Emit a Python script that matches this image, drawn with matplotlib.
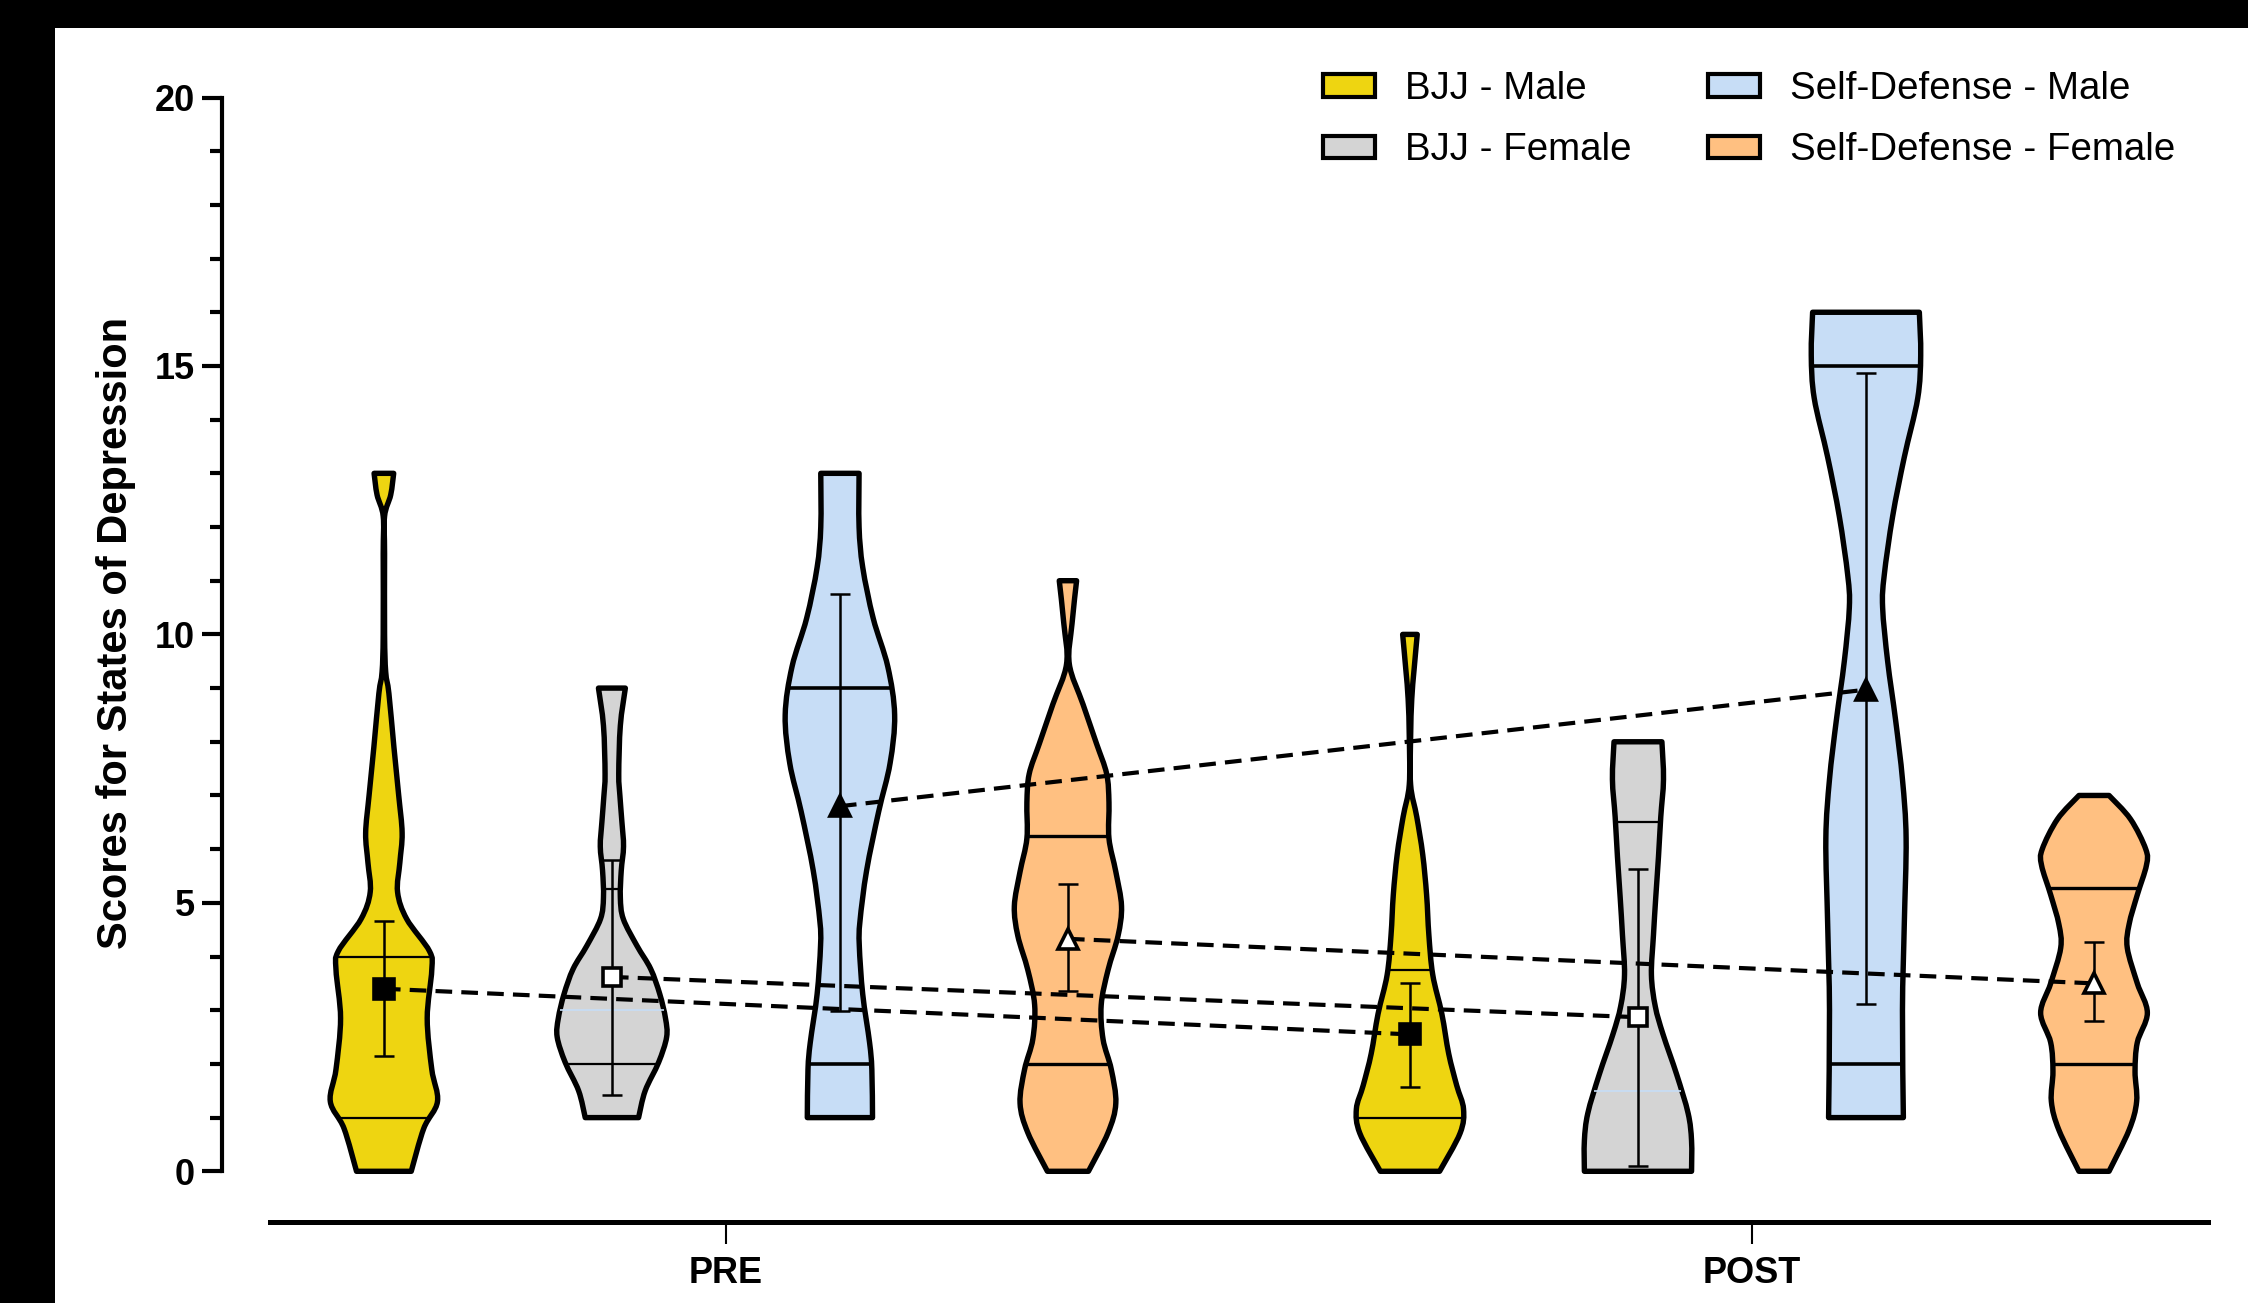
import numpy as np
import matplotlib
matplotlib.use("Agg")
import matplotlib.pyplot as plt
from matplotlib.patches import Patch, Rectangle, PathPatch
from matplotlib.path import Path
from matplotlib.ticker import MultipleLocator, FixedLocator

plt.rcParams['font.family'] = ['Liberation Sans', 'DejaVu Sans']

# ---------------- data ----------------
groups = ["BJJ - Male", "BJJ - Female", "Self-Defense - Male", "Self-Defense - Female"]
timepoints = ["PRE", "POST"]
colors = ["#EED511", "#D4D4D4", "#C7DDF6", "#FFC081"]

# violin outlines: score levels and half-widths (in slot units)
pre_bjj_m_v = [0, 0.8, 1.3, 1.9, 2.85, 3.75, 4.1, 4.7, 5.2, 5.75, 6.3, 7.0, 7.9, 8.9, 9.3, 10.0, 11.5, 12.2, 12.6, 13]
pre_bjj_m_w = [0.12, 0.175, 0.235, 0.21, 0.19, 0.21, 0.20, 0.10, 0.06, 0.07, 0.08, 0.065, 0.044, 0.022, 0.008, 0.003, 0.003, 0.003, 0.03, 0.043]
pre_bjj_f_v = [1, 1.5, 2.03, 2.5, 2.85, 3.3, 3.77, 4.2, 4.7, 5.1, 5.6, 6.05, 6.5, 7.0, 7.4, 8.3, 9]
pre_bjj_f_w = [0.117, 0.146, 0.205, 0.24, 0.235, 0.21, 0.17, 0.11, 0.05, 0.037, 0.041, 0.051, 0.044, 0.035, 0.03, 0.037, 0.059]
pre_sd_m_v = [1, 1.9, 2.4, 3.3, 4.2, 4.66, 5.6, 6.7, 7.6, 8.5, 9.4, 10.3, 11.25, 12, 13]
pre_sd_m_w = [0.143, 0.14, 0.13, 0.10, 0.085, 0.088, 0.117, 0.17, 0.22, 0.24, 0.21, 0.146, 0.10, 0.084, 0.084]
pre_sd_f_v = [0, 0.72, 1.27, 1.9, 2.46, 3.1, 3.75, 4.39, 4.94, 5.58, 6.2, 6.87, 7.4, 7.97, 8.7, 9.45, 10.2, 11]
pre_sd_f_w = [0.09, 0.176, 0.21, 0.19, 0.154, 0.146, 0.176, 0.22, 0.235, 0.21, 0.18, 0.18, 0.17, 0.125, 0.066, 0.006, 0.018, 0.038]

post_bjj_m_v = [0, 0.71, 1.16, 1.6, 2.19, 2.93, 3.66, 4.4, 5.15, 5.9, 6.6, 7.2, 8.1, 8.8, 9.34, 10]
post_bjj_m_w = [0.13, 0.22, 0.235, 0.205, 0.17, 0.14, 0.10, 0.083, 0.073, 0.056, 0.03, 0.003, 0.003, 0.008, 0.018, 0.032]
post_bjj_f_v = [0, 0.57, 1.08, 1.8, 2.55, 3.07, 3.66, 4.4, 5.1, 5.86, 6.6, 7.3, 8]
post_bjj_f_w = [0.235, 0.235, 0.22, 0.17, 0.11, 0.076, 0.059, 0.068, 0.078, 0.09, 0.10, 0.112, 0.105]
post_sd_m_v = [1, 3.0, 4.6, 6.2, 7.3, 8.4, 9.5, 10.5, 11.1, 12.2, 13.3, 14.4, 15.2, 16]
post_sd_m_w = [0.164, 0.16, 0.168, 0.176, 0.16, 0.13, 0.095, 0.073, 0.08, 0.117, 0.168, 0.227, 0.24, 0.234]
post_sd_f_v = [0, 0.77, 1.3, 1.86, 2.4, 2.95, 3.5, 4.16, 4.6, 5.15, 5.7, 6.0, 6.56, 7]
post_sd_f_w = [0.066, 0.154, 0.187, 0.18, 0.19, 0.234, 0.19, 0.146, 0.154, 0.19, 0.23, 0.227, 0.16, 0.066]

# quartile / median lines
pre_quart = [[1, 4], [2, 5.25], [2, 9], [2, 6.25]]
post_quart = [[1, 3.75], [6.5], [2, 15], [2, 5.27]]
pre_faint = [[], [3.0], [], []]
post_faint = [[], [1.5], [], []]

# means with error bars
pre_mean = [3.4, 3.62, 6.8, 4.33]
pre_low = [2.15, 1.43, 2.98, 3.36]
pre_high = [4.67, 5.8, 10.76, 5.35]
post_mean = [2.55, 2.87, 8.97, 3.5]
post_low = [1.57, 0.09, 3.12, 2.8]
post_high = [3.5, 5.63, 14.87, 4.27]


def smooth_side(xs, ys):
    """Catmull-Rom style Bezier segments through the outline points."""
    pts = np.column_stack([xs, ys])
    n = len(pts)
    verts, codes = [], []
    for i in range(n - 1):
        p0 = pts[max(i - 1, 0)]
        p1 = pts[i]
        p2 = pts[i + 1]
        p3 = pts[min(i + 2, n - 1)]
        c1 = p1 + (p2 - p0) / 6.0
        c2 = p2 - (p3 - p1) / 6.0
        verts += [tuple(c1), tuple(c2), tuple(p2)]
        codes += [Path.CURVE4] * 3
    return verts, codes


def violin_path(c, v, w):
    v = np.asarray(v, float)
    w = np.asarray(w, float)
    verts = [(c + w[0], v[0])]
    codes = [Path.MOVETO]
    rv, rc = smooth_side(c + w, v)
    verts += rv
    codes += rc
    verts.append((c - w[-1], v[-1]))
    codes.append(Path.LINETO)
    lv, lc = smooth_side((c - w)[::-1], v[::-1])
    verts += lv
    codes += lc
    verts.append((c + w[0], v[0]))
    codes.append(Path.CLOSEPOLY)
    return Path(verts, codes)


# ---------------- figure ----------------
W, H = 2248, 1303
fig = plt.figure(figsize=(W / 100, H / 100), dpi=100)
fig.patch.set_facecolor("white")
fig.patches.append(Rectangle((0, 1 - 28 / H), 1, 28 / H, transform=fig.transFigure,
                             facecolor="black", edgecolor="none", zorder=0))
fig.patches.append(Rectangle((0, 0), 55 / W, 1, transform=fig.transFigure,
                             facecolor="black", edgecolor="none", zorder=0))

ax = fig.add_axes([222 / W, 1 - 1221.5 / H, 1986 / W, 1124 / H])
ax.set_facecolor("none")

group_pos = [0.0, 4.5]
offsets = [-1.5, -0.5, 0.5, 1.5]

pre_shapes = [(pre_bjj_m_v, pre_bjj_m_w), (pre_bjj_f_v, pre_bjj_f_w),
              (pre_sd_m_v, pre_sd_m_w), (pre_sd_f_v, pre_sd_f_w)]
post_shapes = [(post_bjj_m_v, post_bjj_m_w), (post_bjj_f_v, post_bjj_f_w),
               (post_sd_m_v, post_sd_m_w), (post_sd_f_v, post_sd_f_w)]
quart_lw = [1.6, 1.6, 2.6, 2.4]

markers = ["s", "s", "^", "^"]
mfaces = ["black", "white", "black", "white"]
msizes = [14, 13, 15, 15]

for gi, (shapes, quarts, faints, means, lows, highs) in enumerate([
        (pre_shapes, pre_quart, pre_faint, pre_mean, pre_low, pre_high),
        (post_shapes, post_quart, post_faint, post_mean, post_low, post_high)]):
    for k in range(4):
        c = group_pos[gi] + offsets[k]
        v = np.array(shapes[k][0], dtype=float)
        w = np.array(shapes[k][1], dtype=float)
        patch = PathPatch(violin_path(c, v, w), facecolor=colors[k], edgecolor="black",
                          linewidth=3.9, joinstyle="round", zorder=2)
        ax.add_patch(patch)
        for q in quarts[k]:
            hw = np.interp(q, v, w)
            ax.plot([c - hw, c + hw], [q, q], color="black", lw=quart_lw[k],
                    solid_capstyle="butt", zorder=3)
        for q in faints[k]:
            hw = np.interp(q, v, w)
            ax.plot([c - hw, c + hw], [q, q], color="#C6DDF6", lw=1.2,
                    solid_capstyle="butt", zorder=3)
        ax.errorbar([c], [means[k]], yerr=[[means[k] - lows[k]], [highs[k] - means[k]]],
                    fmt="none", ecolor="black", elinewidth=1.8, capsize=7.5,
                    capthick=1.8, zorder=4)

# connecting dashed lines between PRE and POST means
for k in range(4):
    x0 = group_pos[0] + offsets[k]
    x1 = group_pos[1] + offsets[k]
    ax.plot([x0, x1], [pre_mean[k], post_mean[k]], color="black", lw=3,
            linestyle=(0, (4, 2.2)), zorder=5)
    ax.plot([x0, x1], [pre_mean[k], post_mean[k]], linestyle="none",
            marker=markers[k], ms=msizes[k], mfc=mfaces[k], mec="black",
            mew=2.6, zorder=6)

# ---------------- axes styling ----------------
ax.set_xlim(-2.21, 6.5)
ax.set_ylim(-0.935, 20)
for s in ["top", "right"]:
    ax.spines[s].set_visible(False)
ax.spines["left"].set_bounds(0, 20)
ax.spines["left"].set_linewidth(3)
ax.spines["bottom"].set_bounds(-2.0, 6.5)
ax.spines["bottom"].set_linewidth(3.6)

ax.yaxis.set_major_locator(MultipleLocator(5))
ax.yaxis.set_minor_locator(MultipleLocator(1))
ax.tick_params(axis="y", which="major", length=14.5, width=3, pad=5, labelsize=26)
ax.tick_params(axis="y", which="minor", length=8.6, width=3)
for lab in ax.get_yticklabels():
    lab.set_fontweight("bold")

ax.xaxis.set_major_locator(FixedLocator(group_pos))
ax.set_xticklabels(timepoints, fontsize=26, fontweight="bold")
ax.tick_params(axis="x", which="major", length=16, width=1.5, pad=9)

ax.set_ylabel("Scores for States of Depression", fontsize=30, fontweight="bold")
ax.yaxis.set_label_coords((136 - 222) / 1986, (1221.5 - 633) / 1124)

# ---------------- legend ----------------
handles = [Patch(facecolor=colors[k], edgecolor="black", linewidth=3) for k in range(4)]
leg = ax.legend(handles, groups, ncol=2, loc="upper left",
                bbox_to_anchor=(1323 / W, 1 - 71 / H), bbox_transform=fig.transFigure,
                frameon=False, fontsize=27.7, handlelength=1.35, handleheight=0.52,
                handletextpad=0.78, columnspacing=2.0, labelspacing=0.66,
                borderpad=0, borderaxespad=0)

fig.savefig("out.png", dpi=100, facecolor=fig.get_facecolor())
